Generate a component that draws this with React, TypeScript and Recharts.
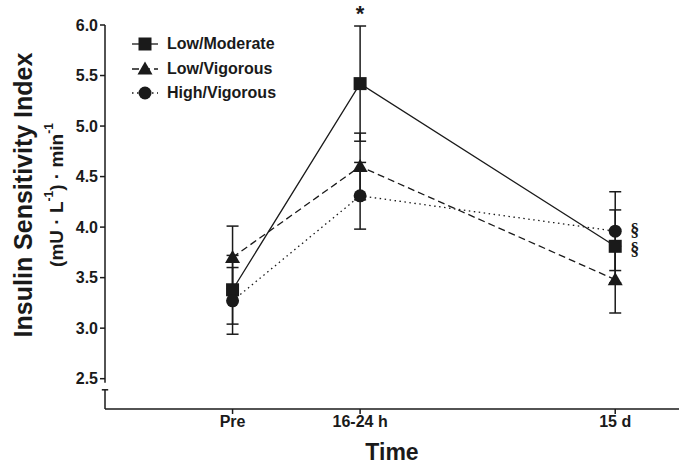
import React from "react";
import {
  LineChart,
  Line,
  XAxis,
  YAxis,
  ErrorBar,
  ReferenceLine,
  ReferenceDot,
} from "recharts";

const timePoints = [1, 2, 4];
const timeLabels = ["Pre", "16-24 h", "15 d"];

const lowModerate = [3.38, 5.42, 3.81];
const lowModerateErr = [0.34, 0.57, 0.36];
const lowVigorous = [3.7, 4.6, 3.48];
const lowVigorousErr = [0.31, 0.33, 0.33];
const highVigorous = [3.27, 4.31, 3.96];
const highVigorousErr = [0.33, 0.33, 0.39];

const yTicks = [2.5, 3.0, 3.5, 4.0, 4.5, 5.0, 5.5, 6.0];
const yDomain = [2.2, 6.0];
const axisBreak = [2.46, 2.39];

const data = timePoints.map((t, i) => ({
  t,
  lowModerate: lowModerate[i],
  lowModerateErr: lowModerateErr[i],
  lowVigorous: lowVigorous[i],
  lowVigorousErr: lowVigorousErr[i],
  highVigorous: highVigorous[i],
  highVigorousErr: highVigorousErr[i],
}));

const INK = "#1a1a1a";

const series = [
  { key: "lowModerate", err: "lowModerateErr", name: "Low/Moderate", shape: "square", dash: undefined },
  { key: "lowVigorous", err: "lowVigorousErr", name: "Low/Vigorous", shape: "triangle", dash: "7 4" },
  { key: "highVigorous", err: "highVigorousErr", name: "High/Vigorous", shape: "circle", dash: "1.5 3.5" },
];

function Marker({ shape, cx, cy }: { shape: string; cx: number; cy: number }) {
  if (shape === "square")
    return <rect x={cx - 6.5} y={cy - 6.5} width={13} height={13} fill={INK} />;
  if (shape === "triangle")
    return (
      <polygon
        points={`${cx},${cy - 7.5} ${cx + 7.5},${cy + 5.5} ${cx - 7.5},${cy + 5.5}`}
        fill={INK}
      />
    );
  return <circle cx={cx} cy={cy} r={6.5} fill={INK} />;
}

function LegendBox() {
  return (
    <div style={{ position: "absolute", left: 131, top: 32, display: "flex", flexDirection: "column" }}>
      {series.map((s) => (
        <div key={s.key} style={{ height: 24.5, display: "flex", alignItems: "center" }}>
          <svg width={32} height={20}>
            <line x1={1} y1={10} x2={27} y2={10} stroke={INK} strokeWidth={1.3} strokeDasharray={s.dash} />
            <Marker shape={s.shape} cx={14} cy={10} />
          </svg>
          <span style={{ fontWeight: 700, fontSize: 16, marginLeft: 4, color: INK }}>{s.name}</span>
        </div>
      ))}
    </div>
  );
}

// eslint-disable-next-line @typescript-eslint/no-explicit-any
function YTitle(props: any) {
  const vb = props.viewBox;
  const cy = vb.y + 170;
  return (
    <g fill={INK} fontWeight={700}>
      <text x={23} y={cy} transform={`rotate(-90, 23, ${cy})`} textAnchor="middle" dominantBaseline="central" fontSize={25}>
        Insulin Sensitivity Index
      </text>
      <text x={56} y={cy} transform={`rotate(-90, 56, ${cy})`} textAnchor="middle" dominantBaseline="central" fontSize={19}>
        (mU · L<tspan dy={-7} fontSize={12}>-1</tspan>
        <tspan dy={7}>) · min</tspan>
        <tspan dy={-7} fontSize={12}>-1</tspan>
      </text>
    </g>
  );
}

// eslint-disable-next-line @typescript-eslint/no-explicit-any
function XTitle(props: any) {
  const vb = props.viewBox;
  return (
    <text x={vb.x + vb.width / 2} y={vb.y + 51} textAnchor="middle" fontSize={23} fontWeight={700} fill={INK}>
      Time
    </text>
  );
}

// eslint-disable-next-line @typescript-eslint/no-explicit-any
function Mark(props: any) {
  const { viewBox, text, dx = 0, dy = 0, serif } = props;
  return (
    <text
      x={viewBox.x + dx}
      y={viewBox.y + dy}
      textAnchor={serif ? "start" : "middle"}
      dominantBaseline="central"
      fontSize={serif ? 18 : 22}
      fontWeight={700}
      fill={INK}
      fontFamily={serif ? "'Liberation Serif', serif" : undefined}
    >
      {text}
    </text>
  );
}

export default function App() {
  return (
    <div style={{ position: "absolute", left: 0, top: 0, width: 686, height: 468, fontFamily: "'Liberation Sans', Arial, sans-serif", background: "#fff" }}>
      <LineChart width={686} height={468} data={data} margin={{ top: 25, right: 7, bottom: 0, left: 45 }}>
        <XAxis
          type="number"
          dataKey="t"
          domain={[0, 4.5]}
          ticks={timePoints}
          tickFormatter={(v) => timeLabels[timePoints.indexOf(v)]}
          axisLine={{ stroke: INK, strokeWidth: 1.5 }}
          tickLine={{ stroke: INK, strokeWidth: 1.5 }}
          tickSize={5}
          tick={{ fill: INK, fontSize: 16, fontWeight: 700 }}
          height={59}
          label={{ content: <XTitle /> }}
        />
        <YAxis
          type="number"
          domain={yDomain}
          ticks={yTicks}
          tickFormatter={(v) => v.toFixed(1)}
          axisLine={false}
          tickLine={{ stroke: INK, strokeWidth: 1.5 }}
          tickSize={5}
          tick={{ fill: INK, fontSize: 16, fontWeight: 700 }}
          width={60}
          label={{ content: <YTitle /> }}
        />
        <ReferenceLine segment={[{ x: 0, y: yDomain[1] }, { x: 0, y: axisBreak[0] }]} stroke={INK} strokeWidth={1.5} ifOverflow="visible" />
        <ReferenceLine segment={[{ x: 0, y: axisBreak[1] }, { x: 0, y: yDomain[0] }]} stroke={INK} strokeWidth={1.5} ifOverflow="visible" />
        <ReferenceLine segment={[{ x: -0.025, y: axisBreak[1] }, { x: 0.025, y: axisBreak[1] }]} stroke={INK} strokeWidth={1.5} ifOverflow="visible" />
        {series.map((s) => (
          <Line
            key={s.key}
            dataKey={s.key}
            name={s.name}
            stroke={INK}
            strokeWidth={1.3}
            strokeDasharray={s.dash}
            isAnimationActive={false}
            // eslint-disable-next-line @typescript-eslint/no-explicit-any
            dot={(p: any) => <Marker key={`${s.key}-${p.index}`} shape={s.shape} cx={p.cx} cy={p.cy} />}
            activeDot={false}
          >
            <ErrorBar dataKey={s.err} width={6} stroke={INK} strokeWidth={1.5} direction="y" />
          </Line>
        ))}
        <ReferenceDot
          x={timePoints[1]}
          y={lowModerate[1] + lowModerateErr[1]}
          r={0}
          label={{ content: <Mark text="*" dy={-13} /> }}
        />
        <ReferenceDot
          x={timePoints[2]}
          y={highVigorous[2]}
          r={0}
          label={{ content: <Mark text="§" serif dx={15} dy={-1} /> }}
        />
        <ReferenceDot
          x={timePoints[2]}
          y={lowModerate[2]}
          r={0}
          label={{ content: <Mark text="§" serif dx={15} dy={3} /> }}
        />
      </LineChart>
      <LegendBox />
    </div>
  );
}
